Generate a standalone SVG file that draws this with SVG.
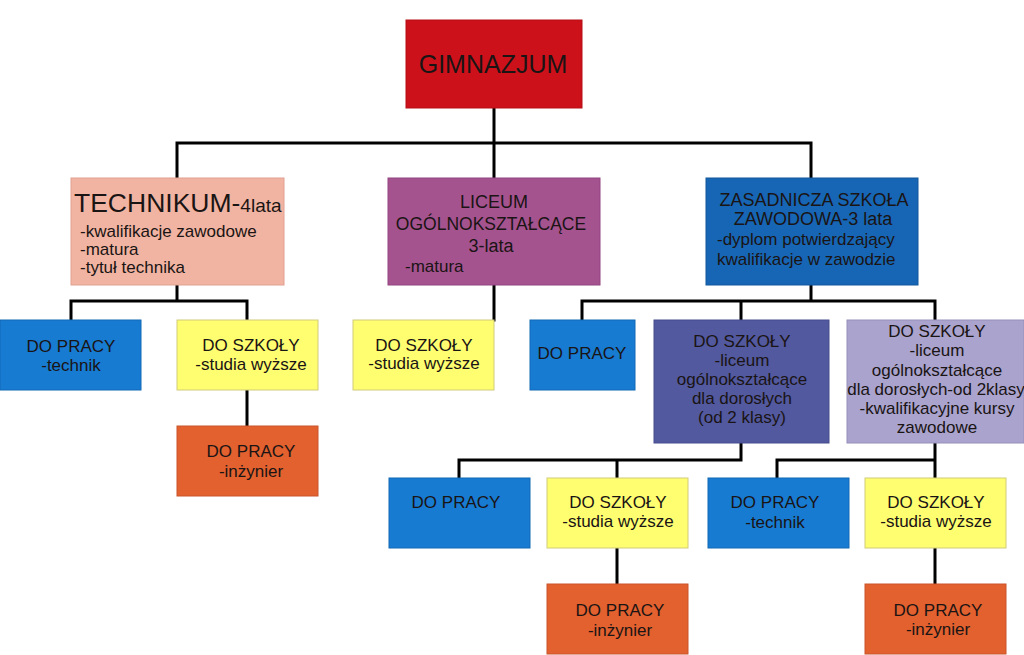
<svg xmlns="http://www.w3.org/2000/svg" width="1024" height="655" viewBox="0 0 1024 655">
<style>
text{font-family:"Liberation Sans",Arial,sans-serif;fill:#1a1414;font-size:17px}
.c{text-anchor:middle}
.red{fill:#cd111b;stroke:#b50e16}
.salmon{fill:#f2b4a2;stroke:#e0a090}
.purple{fill:#a5538f;stroke:#924580}
.dblue{fill:#1766b5;stroke:#12579c}
.blue{fill:#177bd2;stroke:#1268b4}
.yellow{fill:#fefe70;stroke:#d2cc7a}
.orange{fill:#e2612f;stroke:#c9552a}
.slate{fill:#52599f;stroke:#464d8c}
.lav{fill:#a9a3cd;stroke:#958fba}
rect{stroke-width:1}
#connectors path{fill:none;stroke:#000;stroke-width:3;stroke-linecap:square}
</style>
<rect width="1024" height="655" fill="#fff"/>
<g id="connectors">
<path d="M494 108V143M177 143H811M177 143V178M494 143V178M811 143V178"/>
<path d="M177 285V301M71 301H247M71 301V320M247 301V320M247 390V426"/>
<path d="M494 285V320"/>
<path d="M811 285V301M582 301H935M582 301V320M741 301V320M935 301V320"/>
<path d="M741 443V460M459 460H741M459 460V478M617 460V478M617 548V584"/>
<path d="M935 443V460M777 460H935M777 460V478M935 460V478M935 548V584"/>
</g>
<g id="gimnazjum">
<rect class="red" x="406" y="20" width="176" height="88"/>
<text class="c" x="493" y="73" style="font-size:25px">GIMNAZJUM</text>
</g>
<g id="technikum">
<rect class="salmon" x="71" y="178" width="213" height="107"/>
<text x="74" y="212" style="font-size:26.5px">TECHNIKUM-<tspan style="font-size:19px">4lata</tspan></text>
<text x="80" y="237">-kwalifikacje zawodowe</text>
<text x="80" y="255">-matura</text>
<text x="80" y="273">-tytuł technika</text>
</g>
<g id="liceum">
<rect class="purple" x="388" y="178" width="212" height="107"/>
<text class="c" x="494" y="208" style="font-size:18px">LICEUM</text>
<text class="c" x="491" y="230" style="font-size:17.5px">OGÓLNOKSZTAŁCĄCE</text>
<text class="c" x="491" y="252" style="font-size:18px">3-lata</text>
<text x="405" y="272">-matura</text>
</g>
<g id="zasadnicza">
<rect class="dblue" x="706" y="178" width="212" height="107"/>
<text class="c" x="814" y="206" style="font-size:18px">ZASADNICZA SZKOŁA</text>
<text class="c" x="813" y="225" style="font-size:18px">ZAWODOWA-3 lata</text>
<text x="717" y="245">-dyplom potwierdzający</text>
<text x="717" y="265">kwalifikacje w zawodzie</text>
</g>
<g id="t-praca">
<rect class="blue" x="0" y="320" width="141" height="70"/>
<text class="c" x="71" y="352">DO PRACY</text>
<text class="c" x="71" y="371">-technik</text>
</g>
<g id="t-szkola">
<rect class="yellow" x="177" y="320" width="141" height="70"/>
<text class="c" x="251" y="351">DO SZKOŁY</text>
<text class="c" x="251" y="370">-studia wyższe</text>
</g>
<g id="t-inzynier">
<rect class="orange" x="177" y="426" width="141" height="70"/>
<text class="c" x="251" y="457">DO PRACY</text>
<text class="c" x="251" y="477">-inżynier</text>
</g>
<g id="l-szkola">
<rect class="yellow" x="353" y="320" width="141" height="70"/>
<text class="c" x="424" y="351">DO SZKOŁY</text>
<text class="c" x="424" y="369">-studia wyższe</text>
</g>
<g id="z-praca">
<rect class="blue" x="530" y="320" width="105" height="70"/>
<text class="c" x="582" y="359">DO PRACY</text>
</g>
<g id="z-liceum">
<rect class="slate" x="654" y="320" width="175" height="123"/>
<text class="c" x="742" y="347">DO SZKOŁY</text>
<text class="c" x="742" y="366">-liceum</text>
<text class="c" x="742" y="385">ogólnokształcące</text>
<text class="c" x="742" y="404">dla dorosłych</text>
<text class="c" x="742" y="423">(od 2 klasy)</text>
</g>
<g id="z-kursy">
<rect class="lav" x="847" y="320" width="177" height="123"/>
<text class="c" x="937" y="337">DO SZKOŁY</text>
<text class="c" x="937" y="356">-liceum</text>
<text class="c" x="937" y="376">ogólnokształcące</text>
<text class="c" x="936" y="395">dla dorosłych-od 2klasy</text>
<text class="c" x="937" y="414">-kwalifikacyjne kursy</text>
<text class="c" x="937" y="433">zawodowe</text>
</g>
<g id="a-praca">
<rect class="blue" x="389" y="478" width="141" height="70"/>
<text class="c" x="456" y="508">DO PRACY</text>
</g>
<g id="a-szkola">
<rect class="yellow" x="547" y="478" width="141" height="70"/>
<text class="c" x="618" y="508">DO SZKOŁY</text>
<text class="c" x="618" y="527">-studia wyższe</text>
</g>
<g id="a-inzynier">
<rect class="orange" x="547" y="584" width="141" height="70"/>
<text class="c" x="620" y="616">DO PRACY</text>
<text class="c" x="620" y="636">-inżynier</text>
</g>
<g id="b-praca">
<rect class="blue" x="708" y="478" width="141" height="70"/>
<text class="c" x="775" y="508">DO PRACY</text>
<text class="c" x="775" y="528">-technik</text>
</g>
<g id="b-szkola">
<rect class="yellow" x="865" y="478" width="141" height="70"/>
<text class="c" x="936" y="508">DO SZKOŁY</text>
<text class="c" x="936" y="527">-studia wyższe</text>
</g>
<g id="b-inzynier">
<rect class="orange" x="865" y="584" width="141" height="70"/>
<text class="c" x="938" y="616">DO PRACY</text>
<text class="c" x="938" y="635">-inżynier</text>
</g>
</svg>
